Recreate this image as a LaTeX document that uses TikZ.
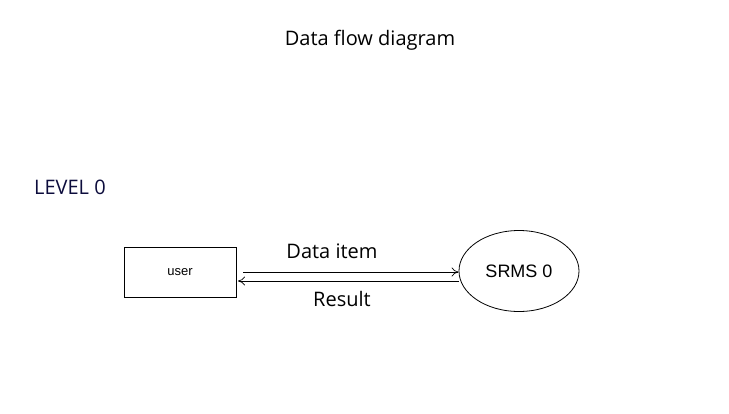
\documentclass[tikz,border=0pt]{standalone}
\usepackage{fontspec}
\newfontfamily\opensans{Open Sans}
\newfontfamily\arialfont{Liberation Sans}
\usetikzlibrary{shapes.geometric,arrows.meta,positioning}
\definecolor{levelblue}{RGB}{12,12,60}

\begin{document}
\begin{tikzpicture}[
    x=1pt, y=-1pt,
    heading/.style={font=\opensans\fontsize{20}{22}\selectfont, inner sep=0pt},
    flowlabel/.style={font=\opensans\fontsize{20}{22}\selectfont, inner sep=0pt},
    entitybox/.style={draw, line width=0.8pt, minimum width=112pt, minimum height=50pt, font=\arialfont\fontsize{13}{15}\selectfont},
    processbox/.style={ellipse, draw, line width=0.8pt, minimum width=120pt, minimum height=81pt, inner sep=0pt, font=\arialfont\fontsize{18}{21}\selectfont},
    flow/.style={-{To[length=7pt, width=9pt]}, line width=0.7pt}
]
    \useasboundingbox (0,0) rectangle (729,413);

    % --- Titre & niveau ---
    \node[heading] (title) at (370, 40) {Data flow diagram};
    \node[heading, text=levelblue, anchor=west] (level) at (34, 187) {LEVEL 0};

    % --- Entite & processus ---
    \node[entitybox] (user) at (180, 272) {user};
    \node[processbox] (srms) at (519, 271) {SRMS 0};

    % --- Flux de donnees ---
    \coordinate (dataStart) at (243, 272);
    \coordinate (resultEnd) at (238, 281);
    \draw[flow] (dataStart) -- (dataStart -| srms.west);
    \draw[flow] (resultEnd -| srms.west) -- (resultEnd);
    \node[flowlabel] (datalbl) at (332, 251) {Data item};
    \node[flowlabel] (resultlbl) at (342, 299) {Result};

\end{tikzpicture}
\end{document}
